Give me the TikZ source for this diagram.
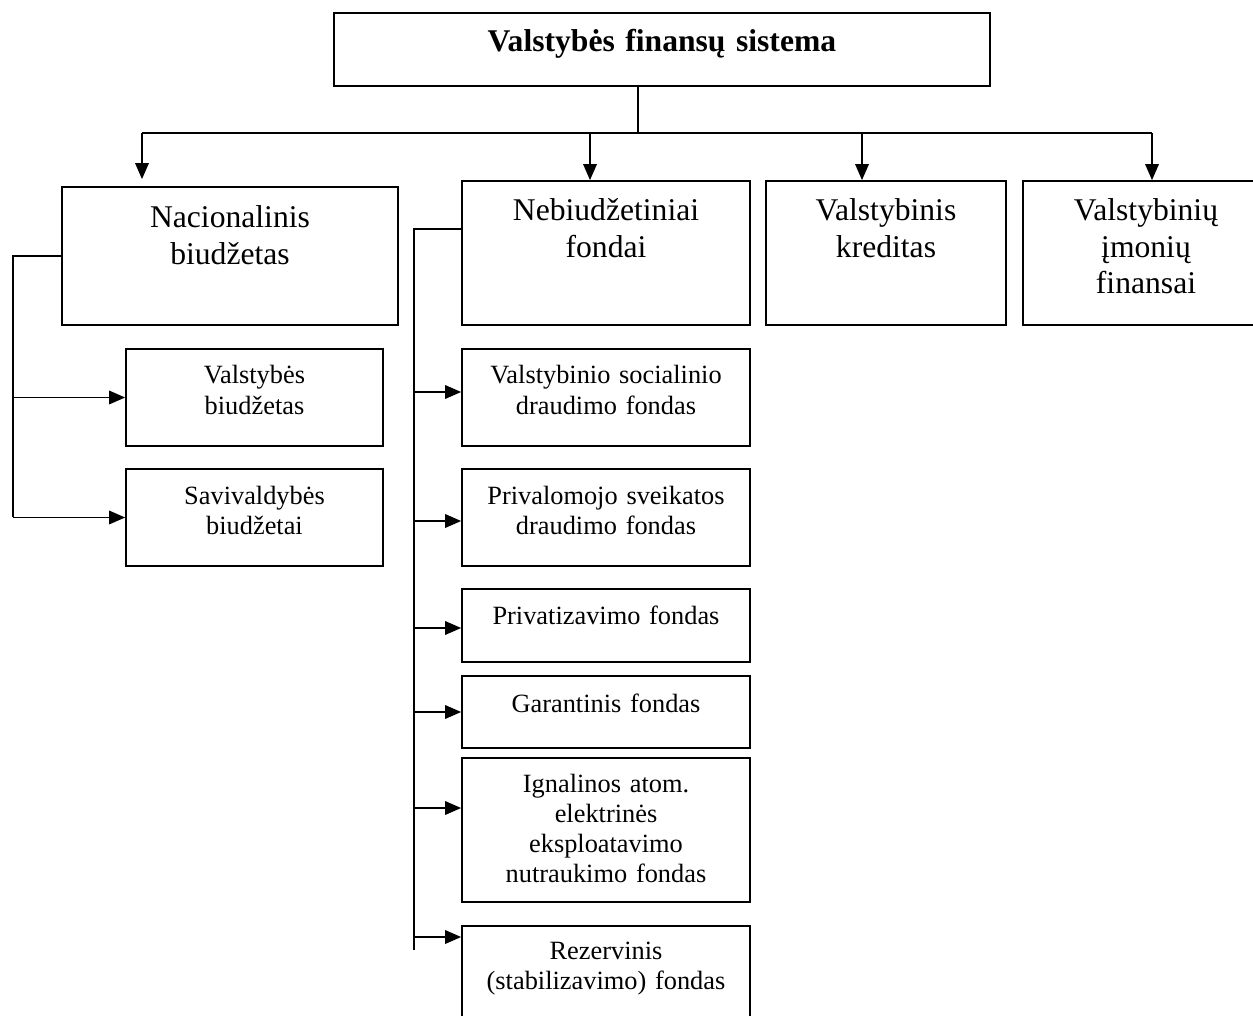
\documentclass[tikz,border=0pt]{standalone}
\usepackage{fontspec}
\setmainfont{Liberation Serif}
\usetikzlibrary{arrows.meta}
\tikzset{>={Triangle[length=0.32cm,width=0.27cm]}}
\tikzstyle{block} = [draw, line width=1pt, inner sep=0pt, align=center, anchor=base]
\tikzstyle{headtext} = [font=\fontsize{18pt}{20.7pt}\selectfont]
\tikzstyle{subtext} = [font=\fontsize{15pt}{17.25pt}\selectfont]
\tikzstyle{wire} = [line width=1pt]

\begin{document}
\begin{tikzpicture}[x=0.02cm, y=-0.02cm]
		\useasboundingbox (0,0) rectangle (1253,1016);
		
		% Top
		\node[block, font=\fontsize{18pt}{20.7pt}\selectfont\bfseries, text width=13.12cm, text height=0.78cm, text depth=0.68cm] (sys) at (662,52) {Valstybės finansų sistema};
		
		% Main parts
		\node[block, headtext, text width=6.72cm, text height=0.82cm, text depth=1.94cm] (nac) at (230,228) {Nacionalinis\\ biudžetas};
		\node[block, headtext, text width=5.76cm, text height=0.80cm, text depth=2.08cm] (neb) at (606,221) {Nebiudžetiniai\\ fondai};
		\node[block, headtext, text width=4.80cm, text height=0.80cm, text depth=2.08cm] (kred) at (886,221) {Valstybinis\\ kreditas};
		\node[block, headtext, text width=4.92cm, text height=0.80cm, text depth=2.08cm] (imon) at (1146,221) {Valstybinių\\ įmonių\\ finansai};
		
		% Budgets
		\node[block, subtext, text width=5.14cm, text height=0.70cm, text depth=1.24cm] (vb) at (254.5,384) {Valstybės\\ biudžetas};
		\node[block, subtext, text width=5.14cm, text height=0.70cm, text depth=1.24cm] (sb) at (254.5,504) {Savivaldybės\\ biudžetai};
		
		% Funds
		\node[block, subtext, text width=5.76cm, text height=0.70cm, text depth=1.24cm] (vsd) at (606,384) {Valstybinio socialinio\\ draudimo fondas};
		\node[block, subtext, text width=5.76cm, text height=0.70cm, text depth=1.24cm] (psd) at (606,504) {Privalomojo sveikatos\\ draudimo fondas};
		\node[block, subtext, text width=5.76cm, text height=0.70cm, text depth=0.76cm] (priv) at (606,624) {Privatizavimo fondas};
		\node[block, subtext, text width=5.76cm, text height=0.72cm, text depth=0.72cm] (gar) at (606,712) {Garantinis fondas};
		\node[block, subtext, text width=5.76cm, text height=0.68cm, text depth=2.20cm] (ign) at (606,792) {Ignalinos atom.\\ elektrinės\\ eksploatavimo\\ nutraukimo fondas};
		\node[block, subtext, text width=5.76cm, text height=0.66cm, text depth=1.62cm] (rez) at (606,959) {Rezervinis\\ (stabilizavimo) fondas};
		
		% Coordinates
		\coordinate (hub) at (638,133);
		\coordinate (barL) at (142,133);
		\coordinate (barN) at (590,133);
		\coordinate (barK) at (862,133);
		\coordinate (barR) at (1152,133);
		\coordinate (spR) at (414,229);
		\coordinate (spEnd) at (414,950);
		\coordinate (s1) at (414,392);
		\coordinate (s2) at (414,521);
		\coordinate (s3) at (414,628);
		\coordinate (s4) at (414,712);
		\coordinate (s5) at (414,808);
		\coordinate (s6) at (414,937);
		
		% Top wires
		\draw[wire] (sys.south -| hub) -- (hub);
		\draw[wire] (barL) -- (barR);
		\draw[wire, ->, shorten >=0.14cm] (barL) -- (barL |- nac.north);
		\draw[wire, ->] (barN) -- (barN |- neb.north);
		\draw[wire, ->] (barK) -- (barK |- kred.north);
		\draw[wire, ->] (barR) -- (barR |- imon.north);
		
		% Left wires
		\draw[wire] (nac.west) -- ++(-48,0) coordinate (spL) -- (spL |- sb.west);
		\draw[wire, ->] (spL |- vb.west) -- (vb.west);
		\draw[wire, ->] (spL |- sb.west) -- (sb.west);
		
		% Right wires
		\draw[wire] (neb.west |- spR) -- (spR) -- (spEnd);
		\draw[wire, ->] (s1) -- (s1 -| vsd.west);
		\draw[wire, ->] (s2) -- (s2 -| psd.west);
		\draw[wire, ->] (s3) -- (s3 -| priv.west);
		\draw[wire, ->] (s4) -- (s4 -| gar.west);
		\draw[wire, ->] (s5) -- (s5 -| ign.west);
		\draw[wire, ->] (s6) -- (s6 -| rez.west);
	\end{tikzpicture}
\end{document}
